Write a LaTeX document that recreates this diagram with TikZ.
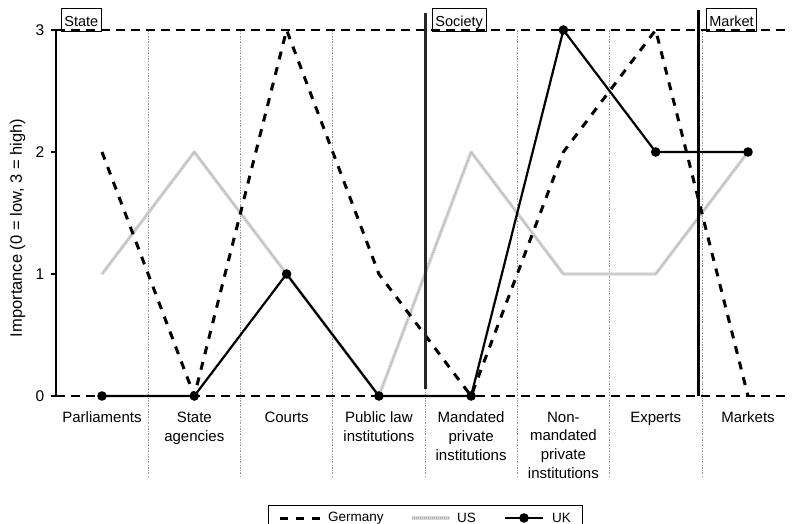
\documentclass[tikz,border=0pt]{standalone}
\usepackage{fontspec}
\setmainfont{Liberation Sans}
\begin{document}
\begin{tikzpicture}[x=1pt,y=-1pt,
  catlabel/.style={align=center, anchor=north, inner sep=0pt,
    font=\fontsize{15}{18.7}\selectfont},
  ticklabel/.style={anchor=east, inner sep=0pt, font=\fontsize{15.5}{18}\selectfont},
  sectorbox/.style={draw, line width=0.8pt, fill=white, anchor=south west,
    inner xsep=3pt, inner ysep=3.5pt, text height=14pt, text depth=2pt,
    font=\fontsize{14.5}{16}\selectfont},
  legendtext/.style={anchor=west, inner sep=0pt, font=\fontsize{13.5}{15}\selectfont},
  gridline/.style={line width=1.2pt, dash pattern=on 9pt off 6pt},
  divider/.style={gray!80, line width=0.6pt, dash pattern=on 2pt off 1.5pt on 0.6pt off 1.5pt},
  sectorline/.style={line width=3pt},
  germany/.style={line width=3pt, dash pattern=on 8pt off 8pt},
  ushalo/.style={line width=3.4pt, gray!30, line join=round},
  uscore/.style={line width=1.4pt, gray!60, dash pattern=on 1pt off 1pt},
  ukline/.style={line width=2.2pt, line join=round},
  ukdot/.style={fill=black}]
\useasboundingbox (0,0) rectangle (793,524);

% sector labels
\node[sectorbox] (state) at (61,32) {State};
\node[sectorbox] (society) at (432,32) {Society};
\node[sectorbox] (market) at (706,32) {Market};

% category dividers
\foreach \x in {148.1,240.4,332.7,425,517.3,609.6,701.9}
  \draw[divider] (\x,30) -- (\x,478);

% value grid lines at 0 and 3
\coordinate (top0) at (56,30);
\coordinate (top1) at (787,30);
\coordinate (bot0) at (56,396);
\coordinate (bot1) at (787,396);
\draw[gridline] (top0) -- (top1);
\draw[gridline] (bot0) -- (bot1);

% y axis with ticks
\draw[line width=1.3pt] (top0) -- (bot0);
\foreach \v/\y in {0/396,1/274,2/152,3/30} {
  \draw[line width=1.2pt] (50.5,\y) -- (56,\y);
  \node[ticklabel] (tick\v) at (44.5,\y) {\v};
}
\node[rotate=90, inner sep=0pt, font=\fontsize{16.5}{19}\selectfont] (ylabel) at (17.5,228)
  {Importance (0 = low, 3 = high)};

% category labels
\node[catlabel] (cat1) at (102,411.7) {Parliaments};
\node[catlabel] (cat2) at (194.3,411.7) {State\\agencies};
\node[catlabel] (cat3) at (286.6,411.7) {Courts};
\node[catlabel] (cat4) at (378.9,411.7) {Public law\\institutions};
\node[catlabel] (cat5) at (471.1,411.7) {Mandated\\private\\institutions};
\node[catlabel] (cat6) at (563.4,411.7) {Non-\\mandated\\private\\institutions};
\node[catlabel] (cat7) at (655.7,411.7) {Experts};
\node[catlabel] (cat8) at (748,411.7) {Markets};

% data points
\coordinate (de1) at (102,152);   \coordinate (de2) at (194.3,396);
\coordinate (de3) at (286.6,30);  \coordinate (de4) at (378.9,274);
\coordinate (de5) at (471.1,396); \coordinate (de6) at (563.4,152);
\coordinate (de7) at (655.7,30);  \coordinate (de8) at (748,396);

\coordinate (us1) at (102,274);   \coordinate (us2) at (194.3,152);
\coordinate (us3) at (286.6,274); \coordinate (us4) at (378.9,396);
\coordinate (us5) at (471.1,152); \coordinate (us6) at (563.4,274);
\coordinate (us7) at (655.7,274); \coordinate (us8) at (748,152);

\coordinate (uk1) at (102,396);   \coordinate (uk2) at (194.3,396);
\coordinate (uk3) at (286.6,274); \coordinate (uk4) at (378.9,396);
\coordinate (uk5) at (471.1,396); \coordinate (uk6) at (563.4,30);
\coordinate (uk7) at (655.7,152); \coordinate (uk8) at (748,152);

% US
\draw[ushalo] (us1) -- (us2) -- (us3) -- (us4) -- (us5) -- (us6) -- (us7) -- (us8);
\draw[uscore] (us1) -- (us2) -- (us3) -- (us4) -- (us5) -- (us6) -- (us7) -- (us8);
% Germany
\draw[germany] (de1) -- (de2) -- (de3) -- (de4) -- (de5) -- (de6) -- (de7) -- (de8);
% UK
\draw[ukline] (uk1) -- (uk2) -- (uk3) -- (uk4) -- (uk5) -- (uk6) -- (uk7) -- (uk8);
\foreach \i in {1,...,8} \fill[ukdot] (uk\i) circle (4.8pt);

% sector boundaries
\coordinate (socA) at (425,13);  \coordinate (socB) at (425,389);
\coordinate (mktA) at (698,10);  \coordinate (mktB) at (698,396);
\draw[sectorline, black!85] (socA) -- (socB);
\draw[sectorline] (mktA) -- (mktB);

% legend
\draw[line width=0.8pt] (268,505) rectangle (582,540);
\coordinate (lg0) at (280,518); \coordinate (lg1) at (321,518);
\draw[germany] (lg0) -- (lg1);
\node[legendtext] (lgde) at (328,518) {Germany};
\coordinate (lu0) at (412,518); \coordinate (lu1) at (450,518);
\draw[ushalo] (lu0) -- (lu1);
\draw[uscore] (lu0) -- (lu1);
\node[legendtext] (lgus) at (457,518) {US};
\coordinate (lk0) at (505,518); \coordinate (lk1) at (543,518);
\draw[ukline] (lk0) -- (lk1);
\fill[ukdot] (524,518) circle (4.8pt);
\node[legendtext] (lguk) at (552,518) {UK};
\end{tikzpicture}
\end{document}
